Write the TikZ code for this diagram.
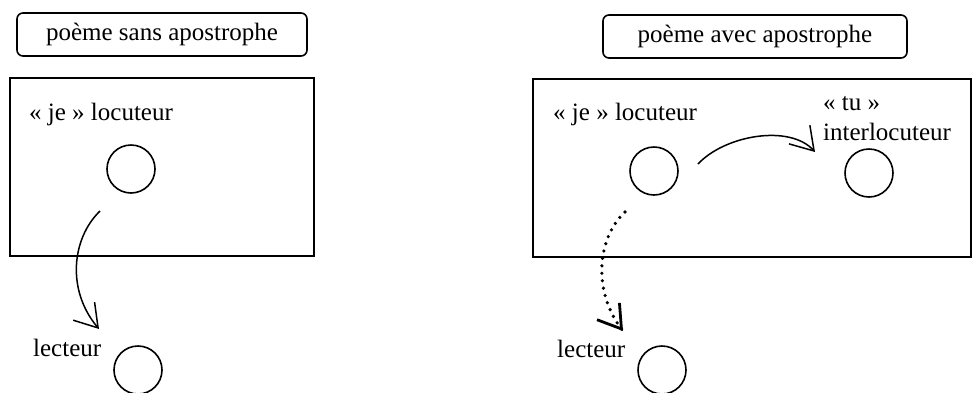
\documentclass[tikz,border=0pt]{standalone}
\usepackage{fontspec}
\setmainfont{Liberation Serif}
\usetikzlibrary{arrows.meta}
\begin{document}
\begin{tikzpicture}[x=1pt,y=-1pt,
  every node/.style={font=\fontsize{25}{29}\selectfont, inner sep=0pt},
  titlebox/.style={draw, line width=1.6pt, rounded corners=6pt},
  frame/.style={draw, line width=1.8pt},
  person/.style={draw, circle, line width=1.6pt, minimum size=48pt},
  lbl/.style={anchor=base west},
  arr/.style={line width=1.5pt, -{Straight Barb[length=22pt,width=28pt,line width=1.5pt]}},
  dotline/.style={line width=3.6pt, line cap=round, dash pattern=on 0pt off 7.5pt},
  dottip/.style={line width=2.8pt, -{Straight Barb[length=22pt,width=28pt,line width=2.8pt]}}]
\useasboundingbox (0,0) rectangle (972,392);
% left
\draw[titlebox] (17,13) rectangle (307,56);
\node (t1) at (162,34.5) {poème sans apostrophe};
\draw[frame] (10,78) rectangle (314,256);
\node[lbl] (je1) at (29,120) {« je » locuteur};
\node[person] (c1) at (131,169) {};
\node[lbl] (lec1) at (33,356) {lecteur};
\node[person] (r1) at (138,370) {};
\coordinate (s1) at (100,211);
\coordinate (e1) at (99,329);
\draw[arr] (s1) .. controls (72,238) and (66,290) .. (e1);
% right
\draw[titlebox] (603,15) rectangle (907,58);
\node (t2) at (755,36.5) {poème avec apostrophe};
\draw[frame] (533,79) -- (971,79) -- (971,257) -- (533,257) -- cycle;
\node[lbl] (je2) at (553,120) {« je » locuteur};
\node[person] (c2) at (654,171) {};
\node[lbl] (tu) at (823,110) {« tu »};
\node[lbl] (inter) at (823,140) {interlocuteur};
\node[person] (c3) at (869,173) {};
\coordinate (s2) at (698,164);
\coordinate (e2) at (815,152);
\draw[arr] (s2) .. controls (725,135) and (790,124) .. (e2);
\node[lbl] (lec2) at (557,357) {lecteur};
\node[person] (r2) at (662,370) {};
\coordinate (s3) at (625,212);
\coordinate (e3) at (623,331);
\coordinate (e3b) at (621.8,329.4);
\draw[dotline] (s3) .. controls (597,238) and (592,292) .. (e3);
\draw[dottip] (e3b) -- (e3);
\end{tikzpicture}
\end{document}
